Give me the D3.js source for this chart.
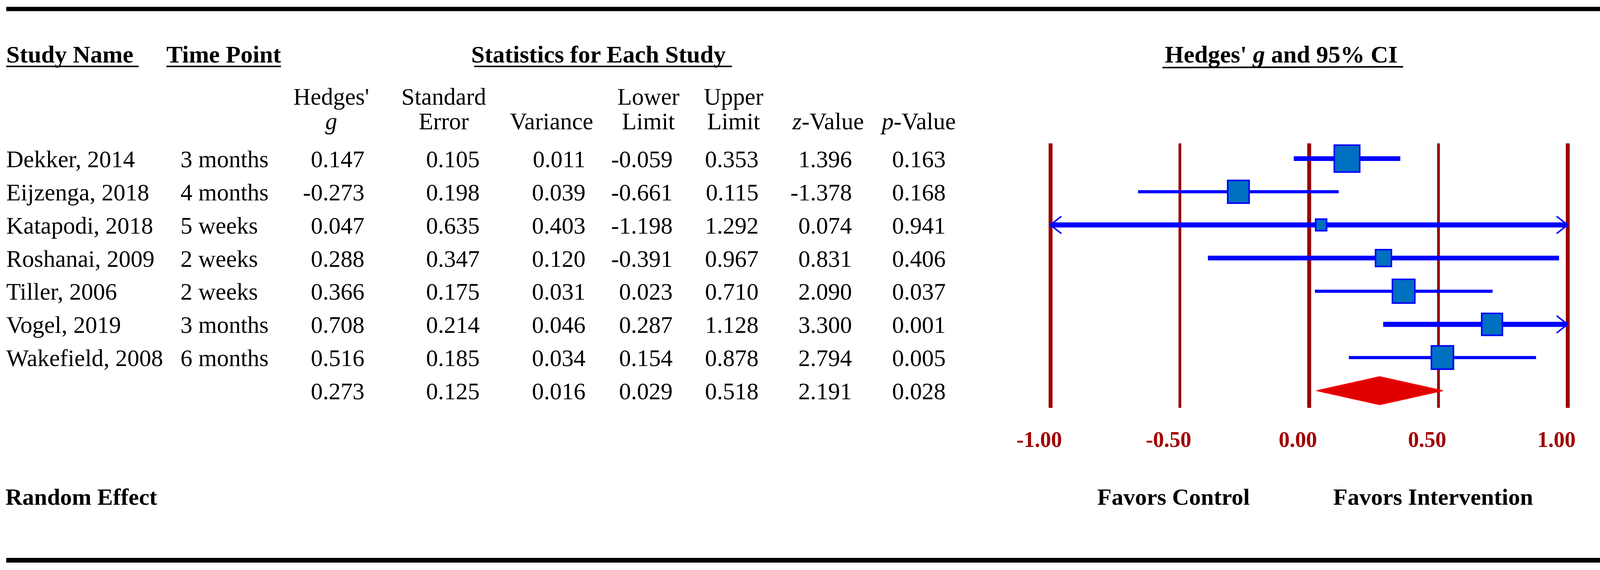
<!DOCTYPE html>
<html>
<head>
<meta charset="utf-8">
<script src="https://cdn.jsdelivr.net/npm/d3@7"></script>
<style>
  body { margin: 0; background: #fff; }
  svg { display: block; font-family: "Liberation Serif", "Times New Roman", serif; }
</style>
</head>
<body>
<div class="chart"></div>
<script>
// study rows
const studies = ["Dekker, 2014", "Eijzenga, 2018", "Katapodi, 2018", "Roshanai, 2009", "Tiller, 2006", "Vogel, 2019", "Wakefield, 2008"];
const timePoints = ["3 months", "4 months", "5 weeks", "2 weeks", "2 weeks", "3 months", "6 months"];
const hedgesG = [0.147, -0.273, 0.047, 0.288, 0.366, 0.708, 0.516];
const stdError = [0.105, 0.198, 0.635, 0.347, 0.175, 0.214, 0.185];
const variance = [0.011, 0.039, 0.403, 0.120, 0.031, 0.046, 0.034];
const lowerLimit = [-0.059, -0.661, -1.198, -0.391, 0.023, 0.287, 0.154];
const upperLimit = [0.353, 0.115, 1.292, 0.967, 0.710, 1.128, 0.878];
const zValue = [1.396, -1.378, 0.074, 0.831, 2.090, 3.300, 2.794];
const pValue = [0.163, 0.168, 0.941, 0.406, 0.037, 0.001, 0.005];
// pooled (random effect) row: g, SE, variance, lower, upper, z, p
const pooled = [0.273, 0.125, 0.016, 0.029, 0.518, 2.191, 0.028];
const axisTicks = [-1, -0.5, 0, 0.5, 1];
const tau2 = 0.058; // between-study variance used for random-effect weights

const W = 4222, H = 1459;
const fmt = d3.formatLocale({decimal: ".", thousands: ",", grouping: [3], currency: ["", ""], minus: "-"});
const f3 = fmt.format(".3f"), f2 = fmt.format(".2f");

const svg = d3.select(".chart").append("svg")
    .attr("width", W).attr("height", H);
svg.append("rect").attr("width", W).attr("height", H).attr("fill", "#fff");

// rules top / bottom
svg.append("line").attr("x1", 16).attr("x2", 4212).attr("y1", 23).attr("y2", 23)
    .attr("stroke", "#000").attr("stroke-width", 11);
svg.append("line").attr("x1", 16).attr("x2", 4212).attr("y1", 1434).attr("y2", 1434)
    .attr("stroke", "#000").attr("stroke-width", 12);

// headers
const heads = [
  {t: "Study Name", x: 16, x1: 16, x2: 355, anchor: "start"},
  {t: "Time Point", x: 426, x1: 426, x2: 719, anchor: "start"},
  {t: "Statistics for Each Study", x: 1532, x1: 1214, x2: 1874, anchor: "middle"}
];
heads.forEach(h => {
  svg.append("text").attr("x", h.x).attr("y", 160).attr("text-anchor", h.anchor)
      .attr("font-weight", "bold").attr("font-size", 62).text(h.t);
  svg.append("line").attr("x1", h.x1).attr("x2", h.x2).attr("y1", 170).attr("y2", 170)
      .attr("stroke", "#000").attr("stroke-width", 4);
});
const ciHead = svg.append("text").attr("x", 3280).attr("y", 160).attr("text-anchor", "middle")
    .attr("font-weight", "bold").attr("font-size", 62);
ciHead.append("tspan").text("Hedges' ");
ciHead.append("tspan").attr("font-style", "italic").text("g");
ciHead.append("tspan").text(" and 95% CI");
svg.append("line").attr("x1", 2976).attr("x2", 3592).attr("y1", 173).attr("y2", 171)
    .attr("stroke", "#000").attr("stroke-width", 4);

// column sub headers: [line1, line2], center x, right edge of numbers
const columns = [
  {l1: "Hedges'", l2: ["", "g"], cx: 848, right: 933},
  {l1: "Standard", l2: ["Error", ""], cx: 1136, right: 1228},
  {l1: "", l2: ["Variance", ""], cx: 1412, right: 1499},
  {l1: "Lower", l2: ["Limit", ""], cx: 1660, right: 1722},
  {l1: "Upper", l2: ["Limit", ""], cx: 1878, right: 1942},
  {l1: "", l2: ["-Value", "z"], cx: 2120, right: 2181},
  {l1: "", l2: ["-Value", "p"], cx: 2352, right: 2421}
];
columns.forEach(c => {
  if (c.l1) svg.append("text").attr("x", c.cx).attr("y", 268).attr("text-anchor", "middle")
      .attr("font-size", 61).text(c.l1);
  const t = svg.append("text").attr("x", c.cx).attr("y", 331).attr("text-anchor", "middle")
      .attr("font-size", 61);
  if (c.l2[1]) t.append("tspan").attr("font-style", "italic").text(c.l2[1]);
  if (c.l2[0]) t.append("tspan").text(c.l2[0]);
});

// row positions
const yScale = d3.scaleLinear().domain([0, studies.length]).range([406, 1000]);

const rows = studies.map((s, i) => ({
  name: s, time: timePoints[i],
  vals: [hedgesG[i], stdError[i], variance[i], lowerLimit[i], upperLimit[i], zValue[i], pValue[i]],
  g: hedgesG[i], lo: lowerLimit[i], hi: upperLimit[i], v: variance[i], i: i
}));

const rowG = svg.selectAll(".row").data(rows).enter().append("g")
    .attr("transform", d => `translate(0,${yScale(d.i) + 22})`)
    .attr("font-size", 61);
rowG.append("text").attr("x", 16).text(d => d.name);
rowG.append("text").attr("x", 462).text(d => d.time);
columns.forEach((c, k) => {
  rowG.append("text").attr("x", c.right).attr("text-anchor", "end").text(d => f3(d.vals[k]));
});
const poolG = svg.append("g").attr("transform", `translate(0,${yScale(studies.length) + 22})`)
    .attr("font-size", 61);
columns.forEach((c, k) => {
  poolG.append("text").attr("x", c.right).attr("text-anchor", "end").text(f3(pooled[k]));
});

// forest plot
const xScale = d3.scaleLinear().domain([-1, 1]).range([2689, 4013]);
const gridTop = 367, gridBottom = 1044;

const axis = svg.append("g").attr("transform", `translate(0,${gridBottom})`)
    .call(d3.axisBottom(xScale).tickValues(axisTicks).tickFormat(f2)
      .tickSizeInner(-(gridBottom - gridTop)).tickSizeOuter(0).tickPadding(60));
axis.select(".domain").remove();
axis.selectAll(".tick line")
    .attr("stroke", "#990000")
    .attr("stroke-width", d => (d === 0 || Math.abs(d) === 1) ? 10 : 7);
axis.selectAll(".tick text")
    .attr("fill", "#a00000").attr("font-size", 56).attr("font-weight", "bold")
    .attr("font-family", "\"Liberation Serif\", serif")
    .attr("dx", -29);

const ciStroke = [12, 8, 13, 12, 8, 13, 8];
const [xmin, xmax] = xScale.domain();
const weight = d => 1 / (d.v + tau2);
const sizeScale = d3.scaleSqrt().domain([0, d3.max(rows, weight)]).range([0, 65]);
const side = d => Math.max(28, sizeScale(weight(d)));

const forest = svg.append("g");
forest.selectAll(".ci").data(rows).enter().append("line")
    .attr("x1", d => xScale(Math.max(d.lo, xmin)))
    .attr("x2", d => xScale(Math.min(d.hi, xmax)))
    .attr("y1", d => yScale(d.i)).attr("y2", d => yScale(d.i))
    .attr("stroke", "#0000ff").attr("stroke-width", d => ciStroke[d.i]);

// arrows for clipped intervals
const arrows = [];
rows.forEach(d => {
  if (d.lo < xmin) arrows.push({x: xScale(xmin), dir: 1, y: yScale(d.i)});
  if (d.hi > xmax) arrows.push({x: xScale(xmax), dir: -1, y: yScale(d.i)});
});
forest.selectAll(".arrow").data(arrows).enter().append("path")
    .attr("d", a => `M${a.x + a.dir * 28},${a.y - 22}L${a.x},${a.y}L${a.x + a.dir * 28},${a.y + 22}`)
    .attr("fill", "none").attr("stroke", "#0000ff").attr("stroke-width", 4);

forest.selectAll(".box").data(rows).enter().append("rect")
    .attr("x", d => xScale(d.g) - side(d) / 2)
    .attr("y", d => yScale(d.i) - side(d) * 1.06 / 2)
    .attr("width", d => side(d))
    .attr("height", d => side(d) * 1.06)
    .attr("fill", "#0070c0").attr("stroke", "#0000ff").attr("stroke-width", 4);

// pooled diamond
const yp = yScale(studies.length);
forest.append("path")
    .attr("d", `M${xScale(pooled[3])},${yp}L${xScale(pooled[0])},${yp - 36}L${xScale(pooled[4])},${yp}L${xScale(pooled[0])},${yp + 36}Z`)
    .attr("fill", "#e00000").attr("stroke", "#ff0000").attr("stroke-width", 2);

// bottom labels
svg.append("text").attr("x", 14).attr("y", 1292).attr("font-weight", "bold").attr("font-size", 60)
    .text("Random Effect");
svg.append("text").attr("x", 2809).attr("y", 1292).attr("font-weight", "bold").attr("font-size", 60)
    .text("Favors Control");
svg.append("text").attr("x", 3413).attr("y", 1292).attr("font-weight", "bold").attr("font-size", 60)
    .text("Favors Intervention");
</script>
</body>
</html>
